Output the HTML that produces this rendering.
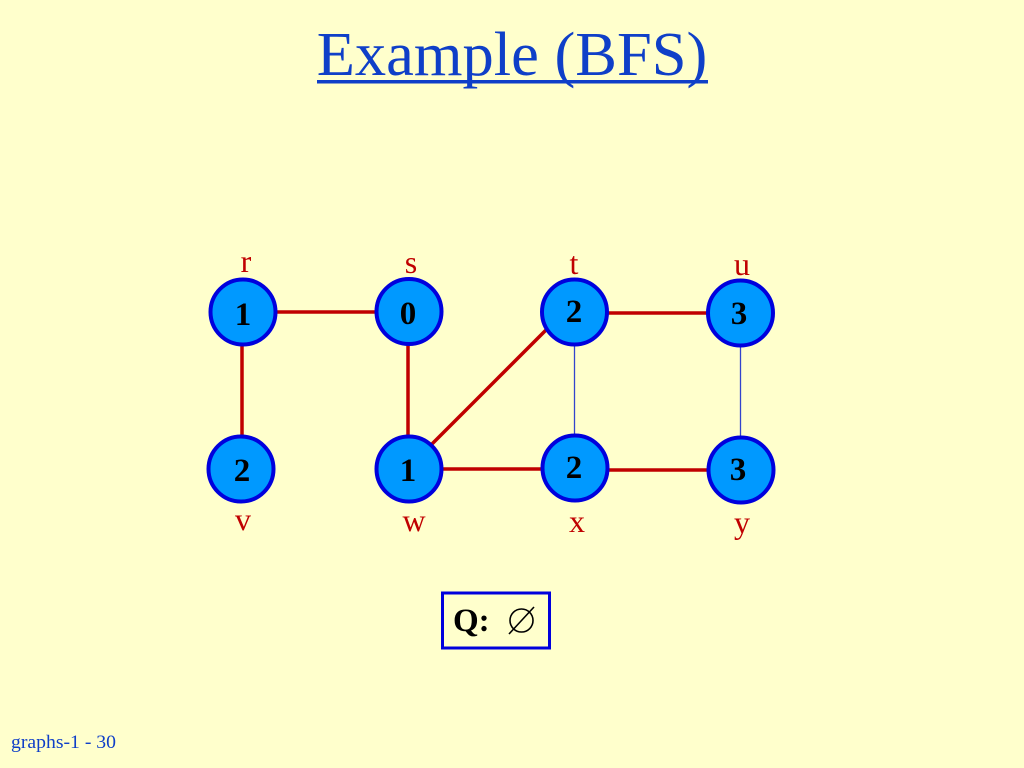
<!DOCTYPE html>
<html><head><meta charset="utf-8"><style>
html,body{margin:0;padding:0;background:#ffffcc;width:1024px;height:768px;overflow:hidden}
svg{display:block}
text{font-family:"Liberation Serif",serif}
.n{font-size:33px;font-weight:bold;fill:#000;text-anchor:middle}
.l{font-size:32px;fill:#c00000;text-anchor:middle}
.c{fill:#0099ff;stroke:#0000dd;stroke-width:4}
.r{stroke:#c00000;stroke-width:3.5;fill:none}
.b{stroke:#3344cc;stroke-width:1.300;fill:none}
</style></head><body>
<svg width="1024" height="768" viewBox="0 0 1024 768" xmlns="http://www.w3.org/2000/svg">
<rect width="1024" height="768" fill="#ffffcc"/>
<text x="512" y="75" font-size="62.500" fill="#0f3fc8" text-anchor="middle">Example (BFS)</text>
<rect x="317" y="80" width="391" height="3.5" fill="#0f3fc8"/>
<line class="r" x1="276" y1="312" x2="376" y2="312"/>
<line class="r" x1="242" y1="344" x2="242" y2="438"/>
<line class="r" x1="408" y1="344" x2="408" y2="438"/>
<line class="r" x1="431" y1="445" x2="547" y2="329"/>
<line class="r" x1="442" y1="469" x2="542" y2="469"/>
<line class="r" x1="607" y1="313" x2="708" y2="313"/>
<line class="r" x1="608" y1="470" x2="708" y2="470"/>
<line class="b" x1="574.500" y1="344" x2="574.500" y2="436"/>
<line class="b" x1="740.500" y1="345" x2="740.500" y2="438"/>
<circle class="c" cx="243" cy="312" r="32.5"/>
<circle class="c" cx="409" cy="311.500" r="32.5"/>
<circle class="c" cx="574.500" cy="312" r="32.5"/>
<circle class="c" cx="740.500" cy="313" r="32.5"/>
<circle class="c" cx="241" cy="469" r="32.5"/>
<circle class="c" cx="409" cy="469" r="32.5"/>
<circle class="c" cx="575" cy="468" r="32.5"/>
<circle class="c" cx="741" cy="470" r="32.5"/>
<text class="n" x="243" y="325">1</text>
<text class="n" x="408" y="324">0</text>
<text class="n" x="574" y="322">2</text>
<text class="n" x="739" y="324">3</text>
<text class="n" x="242" y="481">2</text>
<text class="n" x="408" y="481">1</text>
<text class="n" x="574" y="478">2</text>
<text class="n" x="738" y="480">3</text>
<text class="l" x="246" y="272">r</text>
<text class="l" x="411" y="273">s</text>
<text class="l" x="574" y="274">t</text>
<text class="l" x="742" y="275">u</text>
<text class="l" x="243" y="530">v</text>
<text class="l" x="414" y="531">w</text>
<text class="l" x="577" y="532">x</text>
<text class="l" x="742" y="533">y</text>
<rect x="442.500" y="593" width="107" height="55" fill="none" stroke="#0000dd" stroke-width="3"/>
<text x="453" y="631" font-size="33" font-weight="bold" fill="#000">Q:</text>
<circle cx="521.500" cy="620.500" r="11.500" fill="none" stroke="#000" stroke-width="1.600"/>
<line x1="509" y1="634" x2="534" y2="607" stroke="#000" stroke-width="1.600"/>
<text x="11" y="748" font-size="19" textLength="105" lengthAdjust="spacingAndGlyphs" fill="#0f3fc8">graphs-1 - 30</text>
</svg>
</body></html>
